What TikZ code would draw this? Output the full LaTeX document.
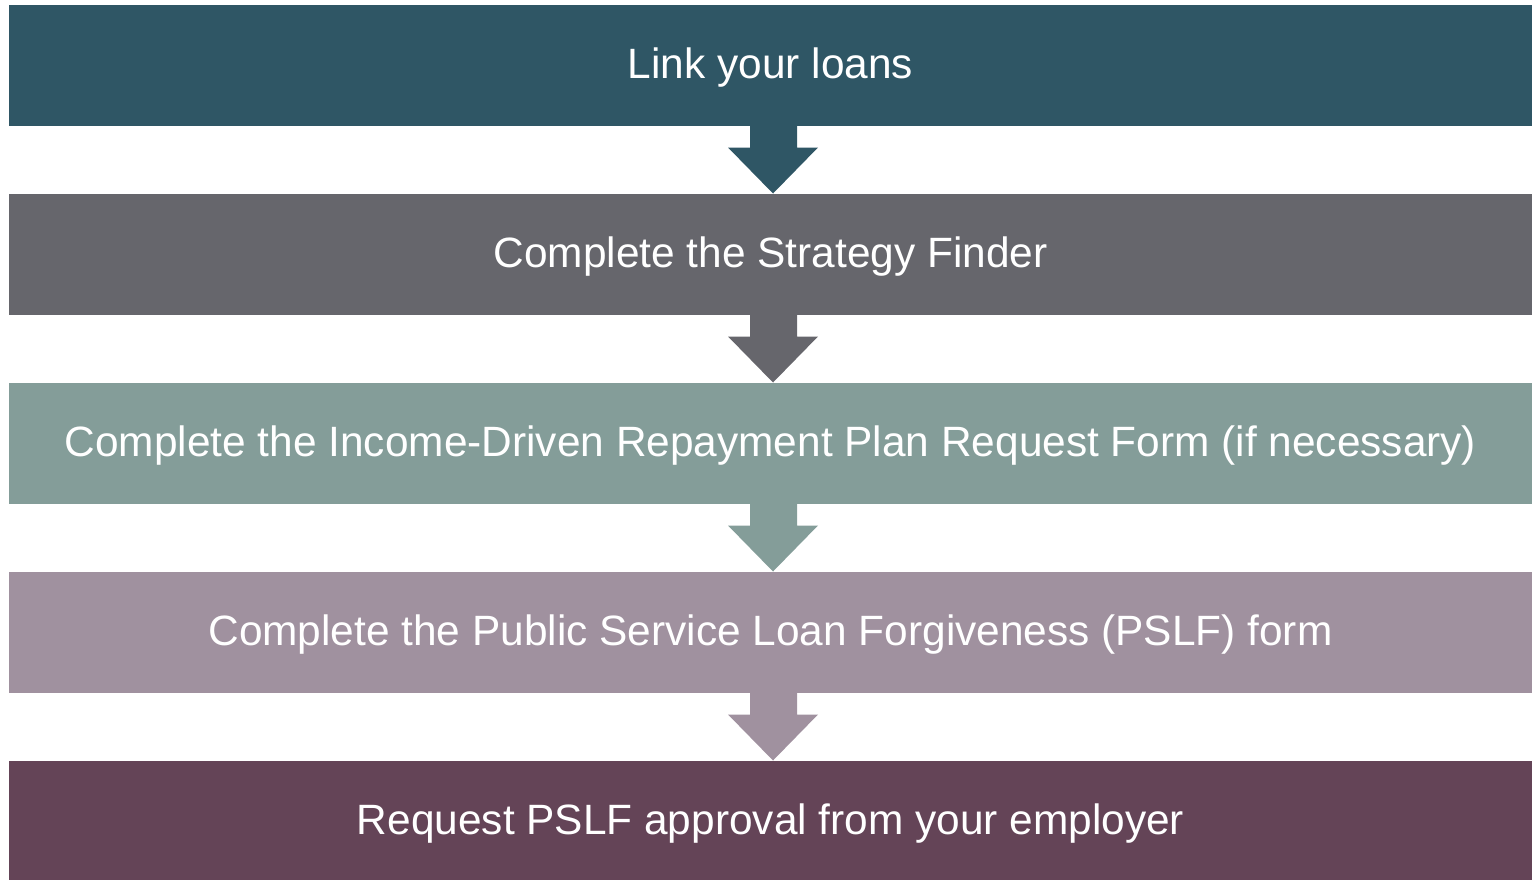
\documentclass[tikz,border=0pt]{standalone}
\usepackage{fontspec}
\setmainfont{Liberation Sans}
\usepackage{xcolor}
\usetikzlibrary{positioning,calc}

\definecolor{linkcol}{RGB}{47,86,101}
\definecolor{findercol}{RGB}{102,102,108}
\definecolor{idrcol}{RGB}{132,157,153}
\definecolor{pslfcol}{RGB}{160,145,159}
\definecolor{employercol}{RGB}{100,68,87}

\begin{document}
\begin{tikzpicture}[x=0.5pt,y=0.5pt,yscale=-1,
  stepbox/.style={inner sep=0pt,outer sep=0pt,minimum width=761.5pt,minimum height=60.5pt,text=white,
    text height=16.5pt,text depth=3pt,font=\fontsize{21.2}{25}\selectfont}]
\useasboundingbox (0,0) rectangle (1532,879);

%Flowchart: Process
\node [stepbox,fill=linkcol] (link) at (770.5,65) {Link your loans};
%Flowchart: Process
\node [stepbox,fill=findercol,below=34pt of link] (finder) {Complete the Strategy Finder};
%Flowchart: Process
\node [stepbox,fill=idrcol,below=34pt of finder] (idr) {Complete the Income-Driven Repayment Plan Request Form (if necessary)};
%Flowchart: Process
\node [stepbox,fill=pslfcol,below=34pt of idr] (pslf) {Complete the Public Service Loan Forgiveness (PSLF) form};
%Flowchart: Process
\node [stepbox,fill=employercol,below=34pt of pslf] (employer) {Request PSLF approval from your employer};

%Down Arrow
\fill [linkcol] ($(link.south)+(-20.5,0)$) -- ($(link.south)+(26.5,0)$) -- ($(link.south)+(26.5,22)$)
  -- ($(link.south)+(47.5,22)$) -- ($(finder.north)+(2.5,0)$) -- ($(link.south)+(-42.5,22)$)
  -- ($(link.south)+(-20.5,22)$) -- cycle ;
%Down Arrow
\fill [findercol] ($(finder.south)+(-20.5,0)$) -- ($(finder.south)+(26.5,0)$) -- ($(finder.south)+(26.5,22)$)
  -- ($(finder.south)+(47.5,22)$) -- ($(idr.north)+(2.5,0)$) -- ($(finder.south)+(-42.5,22)$)
  -- ($(finder.south)+(-20.5,22)$) -- cycle ;
%Down Arrow
\fill [idrcol] ($(idr.south)+(-20.5,0)$) -- ($(idr.south)+(26.5,0)$) -- ($(idr.south)+(26.5,22)$)
  -- ($(idr.south)+(47.5,22)$) -- ($(pslf.north)+(2.5,0)$) -- ($(idr.south)+(-42.5,22)$)
  -- ($(idr.south)+(-20.5,22)$) -- cycle ;
%Down Arrow
\fill [pslfcol] ($(pslf.south)+(-20.5,0)$) -- ($(pslf.south)+(26.5,0)$) -- ($(pslf.south)+(26.5,22)$)
  -- ($(pslf.south)+(47.5,22)$) -- ($(employer.north)+(2.5,0)$) -- ($(pslf.south)+(-42.5,22)$)
  -- ($(pslf.south)+(-20.5,22)$) -- cycle ;

\end{tikzpicture}
\end{document}
